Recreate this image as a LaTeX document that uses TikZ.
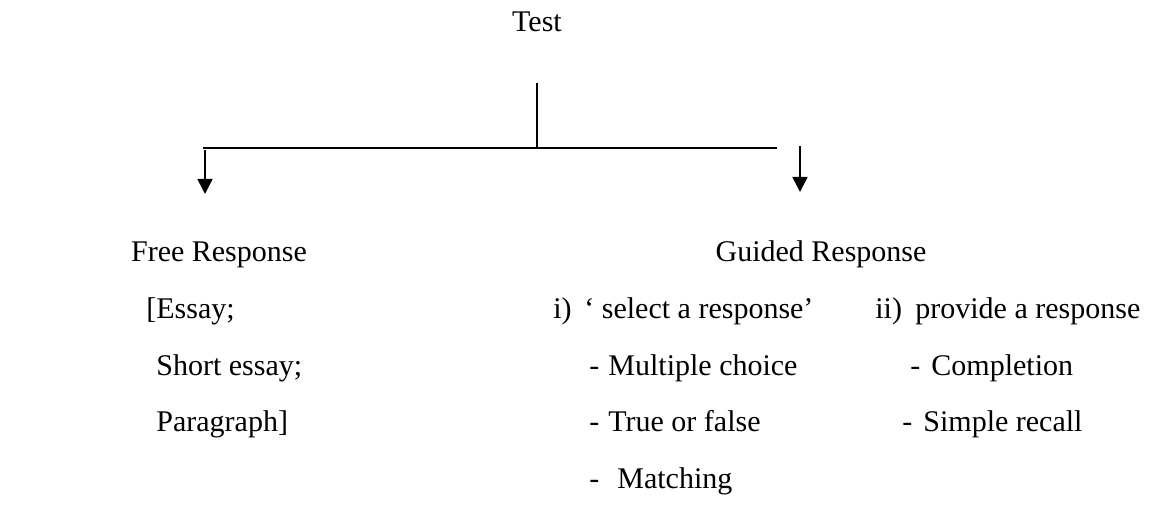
\documentclass[tikz,border=0pt]{standalone}
\usepackage{fontspec}
\setmainfont{Liberation Serif}
\usetikzlibrary{arrows.meta}

\begin{document}
\begin{tikzpicture}[x=0.5pt,y=-0.5pt,
    txt/.style={anchor=base west, inner sep=0pt, font=\fontsize{15}{17}\selectfont},
    rule/.style={line width=0.8pt},
    arr/.style={line width=0.8pt, -{Triangle[width=7.5pt,length=7.5pt]}}]
    \useasboundingbox (0,0) rectangle (1152,519);

    % root and branching lines
    \node[txt, anchor=base] (test) at (537,32){Test};
    \coordinate (top) at (537,83);
    \coordinate (mid) at (537,148);
    \coordinate (barl) at (203,148);
    \coordinate (barr) at (777,148);
    \coordinate (al) at (205,150);
    \coordinate (alend) at (205,194);
    \coordinate (ar) at (800,146);
    \coordinate (arend) at (800,192);

    \draw[rule] (top) -- (mid);
    \draw[rule] (barl) -- (barr);
    \draw[arr] (al) -- (alend);
    \draw[arr] (ar) -- (arend);

    % free response
    \node[txt, anchor=base] (free) at (219,262){Free Response};
        \node[txt] (essay) at (146,318){[Essay;};
        \node[txt] (short) at (156,375){Short essay;};
        \node[txt] (para) at (156,431){Paragraph]};

    % guided response
    \node[txt, anchor=base] (guided) at (821,262){Guided Response};
        \node[txt] (seli) at (553,318){i)};
        \node[txt] (sel) at (584,318){‘ select a response’};
        \node[txt] (provii) at (875,318){ii)};
        \node[txt] (prov) at (915,318){provide a response};

        \node[txt] (d1) at (589,375){-};
        \node[txt] (mc) at (608,375){Multiple choice};
        \node[txt] (d2) at (589,431){-};
        \node[txt] (tf) at (608,431){True or false};
        \node[txt] (d3) at (589,488){-};
        \node[txt] (mat) at (617,488){Matching};

        \node[txt] (d4) at (910,375){-};
        \node[txt] (comp) at (931,375){Completion};
        \node[txt] (d5) at (902,431){-};
        \node[txt] (rec) at (923,431){Simple recall};
\end{tikzpicture}
\end{document}
